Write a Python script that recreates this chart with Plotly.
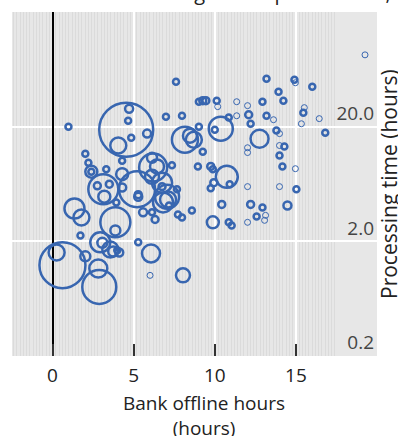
import plotly.graph_objects as go

# Bank offline hours (x), processing time in hours (y) and transfer volume (bubble area)
offline_hours = [
    4.54, 4.72, 4.66, 5.83, 4.05, 4.85, 0.98, 7.61, 6.99, 7.98,
    9.02, 8.16, 8.47, 8.71, 9.02, 2.02, 4.29, 2.21, 2.39, 2.39,
    3.31, 4.29, 6.13, 6.20, 6.44, 7.36, 3.13, 2.76, 3.50, 6.13,
    6.75, 6.75, 5.21, 7.06, 4.29, 7.67, 5.28, 1.35, 1.78, 3.19,
    3.87, 3.87, 3.93, 5.28, 5.58, 6.13, 6.32, 6.81, 7.12, 7.18,
    7.73, 7.98, 8.59, 1.72, 2.94, 3.07, 3.56, 3.99, 4.11, 3.74,
    0.61, 0.25, 2.02, 2.82, 2.88, 5.28, 6.07, 6.01, 8.04, 19.26,
    13.19, 14.91, 14.97, 16.01, 13.93, 14.23, 12.94, 15.52, 15.46, 16.44,
    15.34, 16.81, 9.26, 9.45, 10.12, 10.18, 11.35, 12.02, 12.09, 10.86,
    11.35, 13.19, 13.62, 12.21, 10.37, 10.00, 13.80, 13.99, 12.76, 9.26,
    12.02, 12.02, 13.99, 14.29, 13.99, 14.17, 14.97, 8.96, 9.75, 9.88,
    10.74, 9.94, 10.92, 9.75, 12.02, 13.99, 15.03, 10.43, 12.21, 12.94,
    14.48, 9.88, 10.86, 11.04, 12.02, 12.58, 13.13, 13.07,
]
processing_hours = [
    18.8, 28.7, 22.5, 17.4, 13.7, 16.0, 20.0, 49.2, 24.4, 24.9,
    33.0, 15.4, 16.7, 15.4, 20.0, 11.6, 10.1, 9.7, 8.1, 8.1,
    8.5, 7.7, 10.7, 8.8, 9.0, 9.2, 5.7, 6.1, 6.3, 7.3,
    6.5, 6.0, 5.7, 4.9, 5.9, 5.7, 5.1, 3.87, 3.23, 4.9,
    2.93, 2.49, 4.37, 4.9, 3.58, 3.58, 3.1, 4.37, 4.63, 4.11,
    3.43, 3.23, 3.72, 2.25, 1.96, 1.94, 1.70, 1.67, 1.60, 1.63,
    1.24, 1.60, 1.48, 1.16, 0.80, 1.96, 1.57, 1.01, 1.01, 84.6,
    52.3, 51.3, 48.3, 44.6, 40.3, 33.7, 33.0, 29.3, 26.5, 23.5,
    21.2, 17.7, 33.7, 33.7, 33.7, 29.9, 33.0, 30.5, 25.4, 24.0,
    24.9, 24.9, 23.0, 21.2, 19.2, 18.8, 18.5, 17.4, 15.7, 12.1,
    13.1, 11.9, 13.7, 13.4, 11.2, 9.0, 8.6, 9.0, 9.0, 8.5,
    7.3, 6.5, 6.3, 5.8, 6.0, 6.0, 5.7, 4.2, 4.2, 3.95,
    4.11, 2.93, 2.93, 2.75, 2.93, 3.30, 3.37, 3.05,
]
transfer_volume = [
    7290, 160, 25, 160, 640, 25, 90, 25, 25, 25,
    25, 1690, 490, 640, 25, 25, 25, 25, 360, 25,
    25, 360, 250, 1960, 490, 25, 2250, 122, 122, 490,
    1000, 122, 3240, 1440, 160, 25, 122, 1000, 640, 360,
    2250, 250, 90, 160, 160, 90, 122, 1000, 640, 90,
    25, 25, 90, 25, 1000, 250, 640, 90, 160, 250,
    5290, 640, 250, 810, 2890, 90, 810, 10, 490, 10,
    25, 25, 10, 25, 25, 25, 25, 10, 25, 10,
    10, 25, 122, 122, 40, 10, 10, 10, 122, 25,
    10, 25, 10, 25, 1440, 25, 25, 10, 810, 25,
    10, 10, 10, 40, 25, 25, 10, 25, 122, 25,
    1210, 122, 25, 25, 10, 10, 40, 122, 122, 25,
    160, 360, 25, 25, 10, 40, 10, 10,
]

x_ticks = [0, 5, 10, 15]
y_ticks = [0.2, 2, 20]
y_tick_text = ["0.2", "2.0", "20.0"]

BLUE = "#3866b0"
FONT = "Open Sans"

# thinner ring for the very smallest bubbles
ring_width = [1.0 if v <= 10 else 2.5 for v in transfer_volume]

fig = go.Figure(
    go.Scatter(
        x=offline_hours,
        y=processing_hours,
        mode="markers",
        marker=dict(
            symbol="circle-open",
            size=transfer_volume,
            sizemode="area",
            sizeref=5,
            sizemin=3,
            opacity=1,
            color=BLUE,
            line=dict(width=ring_width, color=BLUE),
        ),
        hoverinfo="x+y",
    )
)

fig.update_layout(
    width=398,
    height=436,
    margin=dict(l=12, r=21, t=12, b=80),
    paper_bgcolor="white",
    plot_bgcolor="#e7e7e7",
    showlegend=False,
    font=dict(family=FONT, size=19, color="#222222"),
    annotations=[
        # chart heading, sitting above the plot area
        dict(
            text="Offline hours vs. exchange costs per transfer, by",
            xref="paper",
            yref="paper",
            x=0.5,
            y=1,
            xanchor="center",
            yanchor="bottom",
            yshift=4,
            showarrow=False,
            font=dict(size=20, color="#222222"),
        ),
        # x-axis title
        dict(
            text="Bank offline hours<br>(hours)",
            xref="paper",
            yref="paper",
            x=0.527,
            y=0,
            xanchor="center",
            yanchor="top",
            yshift=-32,
            showarrow=False,
            align="center",
            font=dict(size=19, color="#222222"),
        ),
        # y-axis title on the right-hand side
        dict(
            text="Processing time (hours)",
            xref="paper",
            yref="paper",
            x=1,
            y=0.5,
            xanchor="center",
            yanchor="middle",
            xshift=12,
            textangle=-90,
            showarrow=False,
            font=dict(size=21, color="#222222"),
        ),
    ],
)

fig.update_xaxes(
    range=[-2.5, 20],
    tickvals=x_ticks,
    ticks="inside",
    ticklen=12,
    tickwidth=1.5,
    tickcolor="#333333",
    showgrid=True,
    gridcolor="white",
    gridwidth=2,
    zeroline=True,
    zerolinecolor="black",
    zerolinewidth=1.5,
    showline=False,
    automargin=False,
    minor=dict(dtick=0.2, showgrid=True, gridcolor="#dbdbdb", gridwidth=0.5, ticklen=0),
    tickfont=dict(size=19),
    ticklabelstandoff=6,
)

fig.update_yaxes(
    type="log",
    range=[-0.69897, 2.30103],
    side="right",
    tickvals=y_ticks,
    ticktext=y_tick_text,
    ticklabelposition="inside top",
    ticks="",
    showgrid=True,
    gridcolor="white",
    gridwidth=2,
    zeroline=False,
    showline=False,
    automargin=False,
    tickfont=dict(size=19),
)

fig.write_html("out.html")
